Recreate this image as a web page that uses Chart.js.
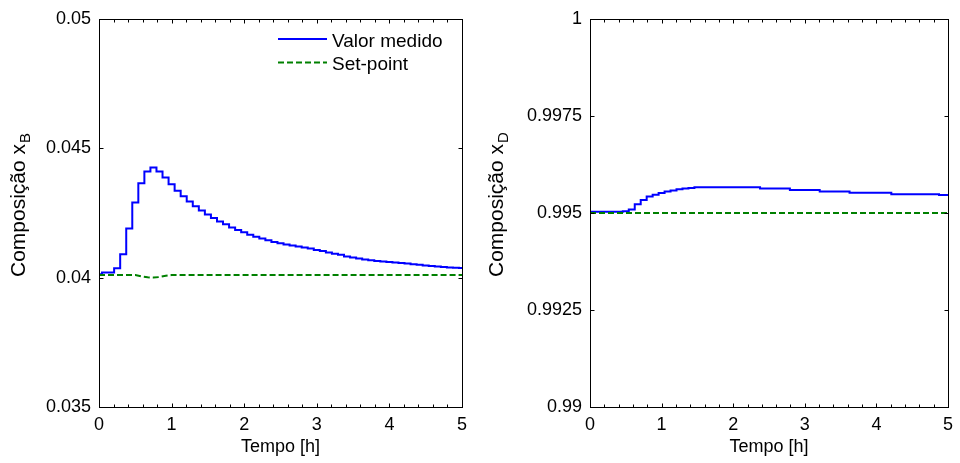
<!DOCTYPE html>
<html>
<head>
<meta charset="utf-8">
<script src="https://cdn.jsdelivr.net/npm/chart.js@4/dist/chart.umd.min.js"></script>
<style>
  html, body { margin: 0; padding: 0; background: #fff; }
  .painel { position: absolute; top: 0; width: 480px; height: 463px; }
</style>
</head>
<body>
<div class="painel" style="left:0"><canvas id="graficoB"></canvas></div>
<div class="painel" style="left:480px"><canvas id="graficoD"></canvas></div>
<script>
// instantes de amostragem (minutos), periodo de 5 min
const tempoMin = [0, 5, 10, 15, 20, 25, 30, 35, 40, 45, 50, 55, 60, 65, 70, 75, 80, 85, 90, 95,
    100, 105, 110, 115, 120, 125, 130, 135, 140, 145, 150, 155, 160, 165, 170, 175, 180, 185, 190, 195,
    200, 205, 210, 215, 220, 225, 230, 235, 240, 245, 250, 255, 260, 265, 270, 275, 280, 285, 290, 295, 300];

// composicao do fundo xB (valor medido)
const xB = [0.04013, 0.0402, 0.0402, 0.04036, 0.0409, 0.0419, 0.0429, 0.04365, 0.0441, 0.04425,
    0.0441, 0.04387, 0.04361, 0.04336, 0.04314, 0.04294, 0.04276, 0.04259, 0.04244, 0.0423,
    0.04217, 0.04206, 0.04194, 0.04184, 0.04175, 0.04166, 0.04158, 0.04151, 0.04144, 0.04138,
    0.04133, 0.04128, 0.04124, 0.0412, 0.04116, 0.04112, 0.04107, 0.04103, 0.04097, 0.04092,
    0.04088, 0.04082, 0.04078, 0.04074, 0.0407, 0.04067, 0.04064, 0.04062, 0.0406, 0.04058,
    0.04056, 0.04054, 0.04052, 0.0405, 0.04047, 0.04045, 0.04043, 0.04041, 0.04039, 0.04038, 0.04037];

// set-point do fundo
const spTempoB = [0, 0.5, 0.58, 0.67, 0.75, 0.83, 0.92, 1.0, 5];
const spB = [0.0401, 0.0401, 0.04005, 0.04001, 0.04, 0.04002, 0.04007, 0.0401, 0.0401];

// composicao do destilado xD (valor medido)
const xD = [0.99503, 0.99503, 0.99503, 0.99503, 0.99503, 0.99503, 0.99504, 0.99509, 0.99522, 0.99533,
    0.99542, 0.99547, 0.99551, 0.99555, 0.99558, 0.99561, 0.99563, 0.99564, 0.99566, 0.99566,
    0.99566, 0.99566, 0.99566, 0.99566, 0.99566, 0.99566, 0.99566, 0.99566, 0.99566, 0.99563,
    0.99563, 0.99563, 0.99563, 0.99563, 0.99559, 0.99559, 0.99559, 0.99559, 0.99559, 0.99555,
    0.99555, 0.99555, 0.99555, 0.99555, 0.99552, 0.99552, 0.99552, 0.99552, 0.99552, 0.99552,
    0.99552, 0.99548, 0.99548, 0.99548, 0.99548, 0.99548, 0.99548, 0.99548, 0.99548, 0.99546, 0.99546];

// set-point do destilado
const spTempoD = [0, 5];
const spD = [0.995, 0.995];

// marcas dos eixos
const ticksX = [0, 1, 2, 3, 4, 5];
const ticksB = [0.035, 0.04, 0.045, 0.05];
const ticksD = [0.99, 0.9925, 0.995, 0.9975, 1];

const AZUL = '#0000ff';
const VERDE = '#008000';
const FONTE = "'Liberation Sans', Arial, sans-serif";

Chart.defaults.font.family = FONTE;
Chart.defaults.color = '#000';

// desenha a caixa, as marcas para dentro, os titulos e a legenda (estilo MATLAB)
const moldura = {
    id: 'moldura',
    afterDraw(chart, args, opts) {
        const ctx = chart.ctx;
        const a = chart.chartArea;
        const sx = chart.scales.x, sy = chart.scales.y;
        const L = Math.round(a.left) + 0.5, R = Math.round(a.right) + 0.5;
        const T = Math.round(a.top) + 0.5, B = Math.round(a.bottom) + 0.5;

        ctx.save();
        ctx.strokeStyle = '#000';
        ctx.lineWidth = 1;
        ctx.setLineDash([]);
        ctx.strokeRect(L, T, R - L, B - T);

        ctx.beginPath();
        sx.ticks.forEach(t => {
            const px = Math.round(sx.getPixelForValue(t.value)) + 0.5;
            ctx.moveTo(px, B); ctx.lineTo(px, B - 4);
            ctx.moveTo(px, T); ctx.lineTo(px, T + 4);
        });
        const n = Math.round((sx.max - sx.min) / opts.menorX);
        for (let i = 1; i < n; i++) {
            const px = Math.round(sx.getPixelForValue(sx.min + i * opts.menorX)) + 0.5;
            ctx.moveTo(px, B); ctx.lineTo(px, B - 3);
            ctx.moveTo(px, T); ctx.lineTo(px, T + 3);
        }
        sy.ticks.forEach(t => {
            const py = Math.round(sy.getPixelForValue(t.value)) + 0.5;
            ctx.moveTo(L, py); ctx.lineTo(L + 4, py);
            ctx.moveTo(R, py); ctx.lineTo(R - 4, py);
        });
        ctx.stroke();

        // titulo do eixo x
        ctx.fillStyle = '#000';
        ctx.font = '18px ' + FONTE;
        ctx.textAlign = 'center';
        ctx.textBaseline = 'alphabetic';
        ctx.fillText('Tempo [h]', (a.left + a.right) / 2, 452);

        // titulo do eixo y com indice
        ctx.save();
        ctx.translate(opts.baseY, 277);
        ctx.rotate(-Math.PI / 2);
        ctx.textAlign = 'left';
        ctx.font = '21px ' + FONTE;
        const principal = 'Composição x';
        const wP = ctx.measureText(principal).width;
        ctx.fillText(principal, 0, 0);
        ctx.font = '15px ' + FONTE;
        ctx.fillText(opts.indice, wP + 1, 5);
        ctx.restore();

        // legenda
        if (opts.legenda) {
            ctx.font = '19px ' + FONTE;
            ctx.textAlign = 'left';
            ctx.textBaseline = 'alphabetic';
            chart.data.datasets.forEach((ds, i) => {
                const yl = 39 + i * 23.5;
                ctx.beginPath();
                ctx.strokeStyle = ds.borderColor;
                ctx.lineWidth = ds.borderWidth;
                ctx.setLineDash(ds.borderDash || []);
                ctx.moveTo(278, yl);
                ctx.lineTo(327, yl);
                ctx.stroke();
                ctx.fillText(ds.label, 332, yl + 7.5);
            });
        }
        ctx.restore();
    }
};

function montaGrafico(id, medido, tempoSp, sp, yMin, yMax, yTicks, larguraY, padDir, baseTitulo, indice, legenda) {
    const pontos = tempoMin.map((m, i) => ({ x: m / 60, y: medido[i] }));
    const pontosSp = tempoSp.map((t, i) => ({ x: t, y: sp[i] }));

    return new Chart(document.getElementById(id), {
        type: 'line',
        data: {
            datasets: [{
                label: 'Valor medido',
                data: pontos,
                borderColor: AZUL,
                borderWidth: 2,
                stepped: 'middle',
                pointRadius: 0,
                order: 2
            }, {
                label: 'Set-point',
                data: pontosSp,
                borderColor: VERDE,
                borderWidth: 2,
                borderDash: [6, 3],
                pointRadius: 0,
                order: 1
            }]
        },
        options: {
            responsive: true,
            maintainAspectRatio: false,
            animation: false,
            layout: { padding: { top: 14, right: padDir, bottom: 0, left: 0 } },
            plugins: {
                legend: { display: false },
                tooltip: { enabled: false },
                moldura: { menorX: 0.2, baseY: baseTitulo, indice: indice, legenda: legenda }
            },
            scales: {
                x: {
                    type: 'linear',
                    min: 0,
                    max: 5,
                    afterBuildTicks: s => { s.ticks = ticksX.map(v => ({ value: v })); },
                    afterFit: s => { s.height = 56; },
                    grid: { display: false, drawTicks: false },
                    border: { display: false },
                    ticks: {
                        font: { size: 18 },
                        color: '#000',
                        padding: 7,
                        maxRotation: 0,
                        autoSkip: false,
                        callback: v => String(v)
                    }
                },
                y: {
                    type: 'linear',
                    min: yMin,
                    max: yMax,
                    afterBuildTicks: s => { s.ticks = yTicks.map(v => ({ value: v })); },
                    afterFit: s => { s.width = larguraY; },
                    grid: { display: false, drawTicks: false },
                    border: { display: false },
                    ticks: {
                        font: { size: 18 },
                        color: '#000',
                        padding: 8,
                        autoSkip: false,
                        callback: v => String(+v.toFixed(4))
                    }
                }
            }
        },
        plugins: [moldura]
    });
}

document.addEventListener('DOMContentLoaded', function () {
    montaGrafico('graficoB', xB, spTempoB, spB, 0.035, 0.05, ticksB, 99, 18, 25, 'B', true);
    montaGrafico('graficoD', xD, spTempoD, spD, 0.99, 1, ticksD, 110, 7, 23, 'D', false);
});
</script>
</body>
</html>
